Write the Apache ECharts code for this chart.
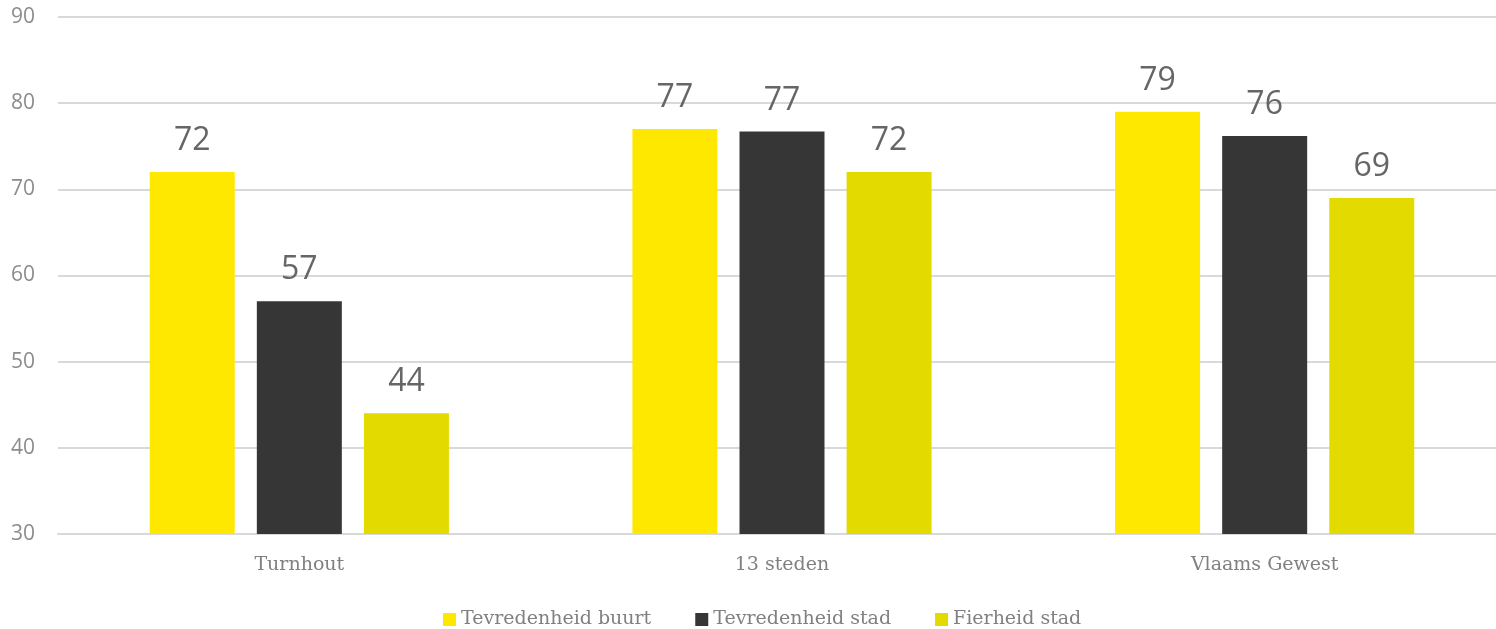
<!DOCTYPE html>
<html>
<head>
    <meta charset="utf-8" />
    <title>Tevredenheid</title>
    <script src="https://cdn.jsdelivr.net/npm/echarts@6/dist/echarts.min.js"></script>
</head>
<body style="margin:0;overflow:hidden">
<!-- iets breder dan het venster: het rooster loopt door tot voorbij de rechterrand -->
<div id="main" style="width: 1506px;height:629px;"></div>
<script type="text/javascript">
    // gegevens
    var categories = ['Turnhout', '13 steden', 'Vlaams Gewest'];
    var buurt = [72, 77, 79];
    var stad = [57, 76.7, 76.2];
    var fierheid = [44, 72, 69];
    var yTicks = [30, 40, 50, 60, 70, 80, 90];

    var myChart = echarts.init(document.getElementById('main'));

    var labelStyle = {
        show: true,
        position: 'top',
        distance: 15,
        fontSize: 32,
        color: '#666',
        fontFamily: 'Open Sans',
        formatter: function (p) { return Math.round(p.value); }
    };

    var option = {
        animation: false,
        grid: { left: 58, right: 0, top: 17, bottom: 95 },
        legend: {
            top: 605,
            left: 438,
            itemWidth: 13,
            itemHeight: 13,
            itemGap: 44,
            icon: 'rect',
            textStyle: { fontSize: 19, color: '#808080', fontFamily: 'DejaVu Serif' },
            data: ['Tevredenheid buurt', 'Tevredenheid stad', 'Fierheid stad']
        },
        xAxis: {
            type: 'category',
            data: categories,
            axisLine: { lineStyle: { color: '#d9d9d9', width: 2 } },
            axisTick: { show: false },
            axisLabel: { fontSize: 19, color: '#808080', margin: 22, fontFamily: 'DejaVu Serif' }
        },
        yAxis: {
            type: 'value',
            min: yTicks[0],
            max: yTicks[yTicks.length - 1],
            interval: 10,
            axisLine: { show: false },
            axisTick: { show: false },
            splitLine: { lineStyle: { color: '#d9d9d9', width: 2 } },
            axisLabel: { fontSize: 21, color: '#8c8c8c', margin: 23, fontFamily: 'Open Sans' }
        },
        series: [
            { name: 'Tevredenheid buurt', type: 'bar', data: buurt, barWidth: 85, barGap: '26%',
              itemStyle: { color: '#ffe800' }, label: labelStyle },
            { name: 'Tevredenheid stad', type: 'bar', data: stad, barWidth: 85, barGap: '26%',
              itemStyle: { color: '#363636' }, label: labelStyle },
            { name: 'Fierheid stad', type: 'bar', data: fierheid, barWidth: 85, barGap: '26%',
              itemStyle: { color: '#e3db00' }, label: labelStyle }
        ]
    };
    myChart.setOption(option);
</script>
</body>
</html>
